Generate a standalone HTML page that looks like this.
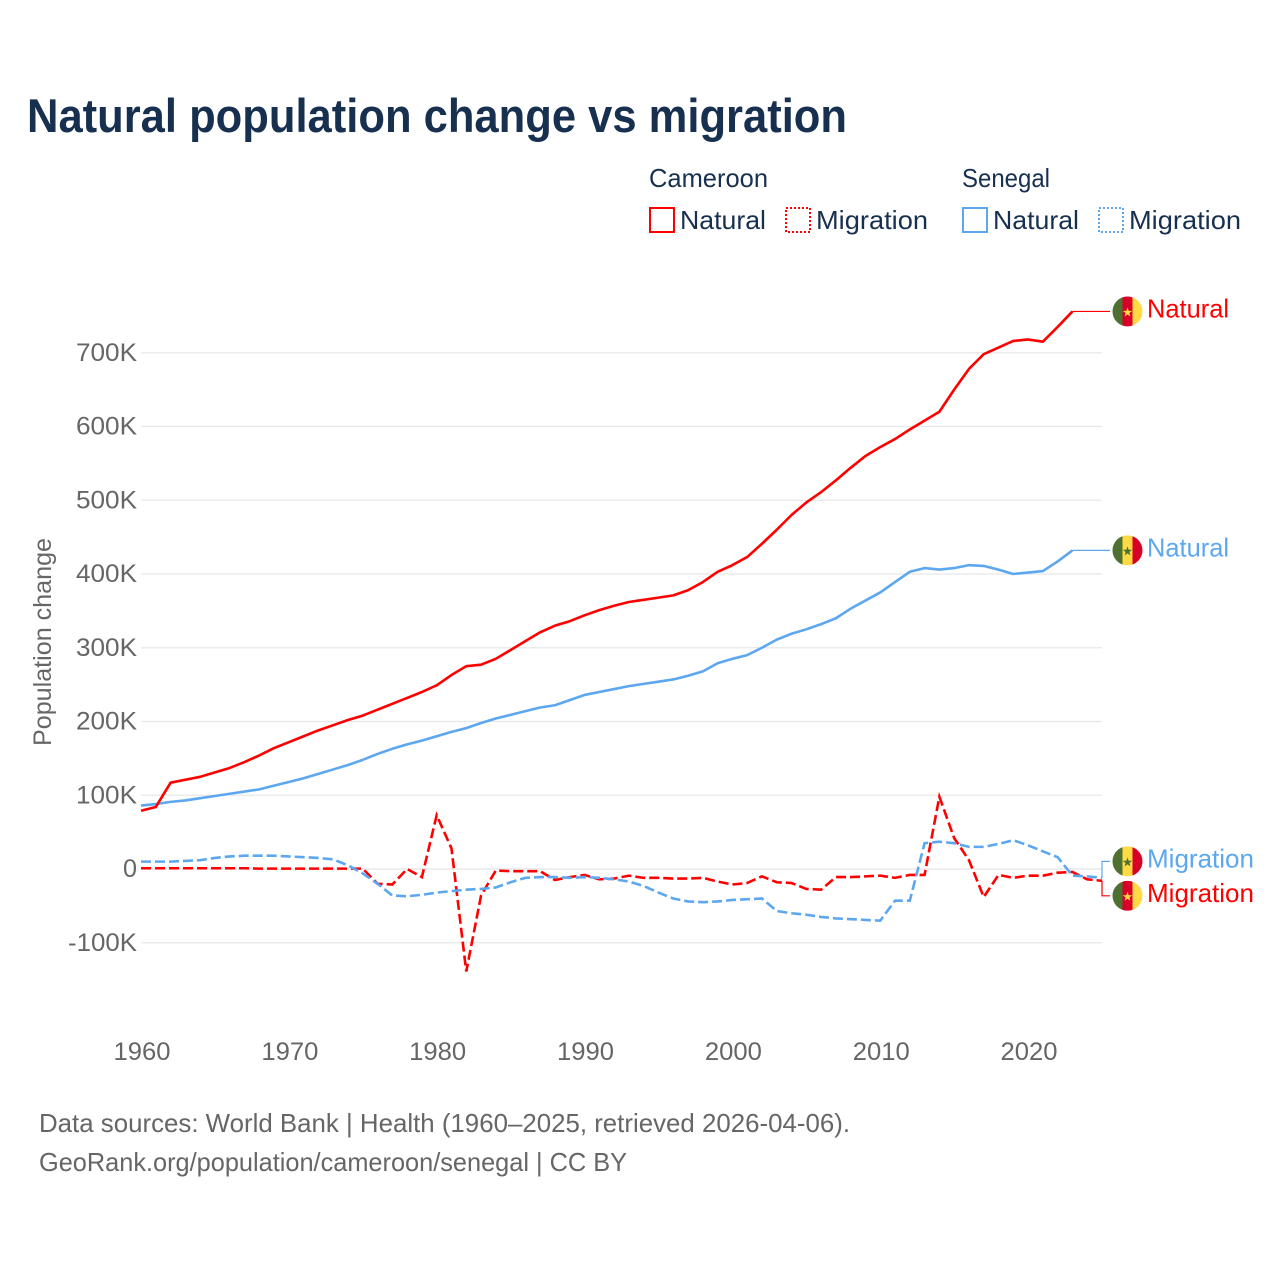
<!DOCTYPE html>
<html lang="en">
<head>
<meta charset="utf-8">
<title>Natural population change vs migration</title>
<style>
html,body{margin:0;padding:0;background:#fff;width:1280px;height:1280px;overflow:hidden}
svg{display:block}
text{font-family:"Liberation Sans",sans-serif}
</style>
</head>
<body>
<svg id="chart" xmlns="http://www.w3.org/2000/svg" width="1280" height="1280" viewBox="0 0 1280 1280">
  <defs>
    <clipPath id="flag-clip"><circle cx="0" cy="0" r="15"/></clipPath>
  </defs>
  <text x="27" y="132" font-size="47" font-weight="700" fill="#18304f" textLength="820" lengthAdjust="spacingAndGlyphs">Natural population change vs migration</text>

  <g>
    <text x="649" y="187" font-size="26" fill="#18304f" textLength="119" lengthAdjust="spacingAndGlyphs">Cameroon</text>
    <text x="962" y="187" font-size="26" fill="#18304f" textLength="88" lengthAdjust="spacingAndGlyphs">Senegal</text>
    <rect x="650" y="208" width="24" height="24" fill="none" stroke="#ff0000" stroke-width="2"/>
    <text x="680" y="229" font-size="26" fill="#18304f" textLength="86" lengthAdjust="spacingAndGlyphs">Natural</text>
    <rect x="786" y="208" width="24" height="24" fill="none" stroke="#ff0000" stroke-width="2" stroke-dasharray="2 2"/>
    <text x="816" y="229" font-size="26" fill="#18304f" textLength="112" lengthAdjust="spacingAndGlyphs">Migration</text>
    <rect x="963" y="208" width="24" height="24" fill="none" stroke="#5ca7f0" stroke-width="2"/>
    <text x="993" y="229" font-size="26" fill="#18304f" textLength="86" lengthAdjust="spacingAndGlyphs">Natural</text>
    <rect x="1099" y="208" width="24" height="24" fill="none" stroke="#5ca7f0" stroke-width="2" stroke-dasharray="2 2"/>
    <text x="1129" y="229" font-size="26" fill="#18304f" textLength="112" lengthAdjust="spacingAndGlyphs">Migration</text>
  </g>

  <text transform="translate(51 642) rotate(-90)" text-anchor="middle" font-size="25" fill="#666666" textLength="208" lengthAdjust="spacingAndGlyphs">Population change</text>

  <g id="grid"></g>
  <g id="y-ticks"></g>
  <g id="x-ticks"></g>
  <g id="series"></g>
  <g id="end-labels"></g>

  <text x="39" y="1132" font-size="26" fill="#666666" textLength="811" lengthAdjust="spacingAndGlyphs">Data sources: World Bank | Health (1960–2025, retrieved 2026-04-06).</text>
  <text x="39" y="1171" font-size="26" fill="#666666" textLength="588" lengthAdjust="spacingAndGlyphs">GeoRank.org/population/cameroon/senegal | CC BY</text>
</svg>
<script>
const years = [1960,1961,1962,1963,1964,1965,1966,1967,1968,1969,1970,1971,1972,1973,1974,1975,1976,1977,1978,1979,1980,1981,1982,1983,1984,1985,1986,1987,1988,1989,1990,1991,1992,1993,1994,1995,1996,1997,1998,1999,2000,2001,2002,2003,2004,2005,2006,2007,2008,2009,2010,2011,2012,2013,2014,2015,2016,2017,2018,2019,2020,2021,2022,2023,2024,2025];
const cameroonNatural = [79,84,117,121,125,131,137,145,154,164,172,180,188,195,202,208,216,224,232,240,249,263,275,277,285,297,309,321,330,336,344,351,357,362,365,368,371,378,389,403,412,423,441,460,480,497,511,527,544,560,572,583,596,608,620,650,678,698,707,716,718,715,735,756];
const senegalNatural = [86,88,91,93,96,99,102,105,108,113,118,123,129,135,141,148,156,163,169,174,180,186,191,198,204,209,214,219,222,229,236,240,244,248,251,254,257,262,268,279,285,290,300,311,319,325,332,340,353,364,375,389,403,408,406,408,412,411,406,400,402,404,417,432];
const cameroonMigration = [1,1,1,1,1,1,1,1,0.5,0.5,0.5,0.5,0.5,0.5,0.5,0.5,-20,-21,0,-11,73,28,-139,-36,-2,-3,-3,-3,-15,-11,-8,-14,-13,-9,-12,-12,-13,-13,-12,-17,-21,-19,-10,-18,-19,-27,-28,-11,-11,-10,-9,-12,-8,-8,98,42,12,-38,-8,-12,-9,-9,-5,-4,-14,-16];
const senegalMigration = [10,10,10,11,12,15,17,18,18,18,17,16,15,13,5,-6,-20,-36,-37,-35,-32,-30,-28,-27,-25,-18,-12,-11,-11,-12,-11,-12,-14,-17,-23,-32,-40,-44,-45,-44,-42,-41,-40,-57,-60,-62,-65,-67,-68,-69,-70,-43,-43,35,37,35,30,30,34,39,32,24,16,-9,-10,-12];
const yTickValues = [-100,0,100,200,300,400,500,600,700];
const yTickLabels = ["-100K","0","100K","200K","300K","400K","500K","600K","700K"];
const xTickLabels = ["1960","1970","1980","1990","2000","2010","2020"];

const SVG_NS = "http://www.w3.org/2000/svg";
const RED = "#ff0000", BLUE = "#5ca7f0", GREY = "#666666";
const xLeft = 141, xRight = 1102, yearStart = 1960, yearEnd = 2025;
const yZero = 869, pxPer100K = 73.75;
function xScale(year){ return xLeft + (year - yearStart) * (xRight - xLeft) / (yearEnd - yearStart); }
function yScale(v){ return yZero - v * pxPer100K / 100; }
function mk(tag, attrs, parent, content){
  const node = document.createElementNS(SVG_NS, tag);
  for (const k in attrs) node.setAttribute(k, attrs[k]);
  if (content !== undefined) node.textContent = content;
  parent.appendChild(node);
  return node;
}
function linePath(values){
  return values.map((v, i) => (i ? "L" : "M") + xScale(years[i]).toFixed(2) + " " + yScale(v).toFixed(2)).join(" ");
}

/* gridlines and y ticks */
const gridG = document.getElementById("grid");
const yG = document.getElementById("y-ticks");
yTickValues.forEach((v, i) => {
  const line = mk("line", {x1: xLeft, x2: xRight, y1: yScale(v), y2: yScale(v), stroke: v === 0 ? "#e4e4e4" : "#e8e8e8", "stroke-width": 1.2}, gridG);
  
  
  const label = yTickLabels[i];
  const w = label === "0" ? 14 : (label[0] === "-" ? 69 : 61);
  const t = mk("text", {x: 137 - w, y: yScale(v) + 8, "font-size": 25, fill: GREY, textLength: w, lengthAdjust: "spacingAndGlyphs"}, yG, label);
  
  
});

/* x ticks */
const xG = document.getElementById("x-ticks");
xTickLabels.forEach((label) => {
  const t = mk("text", {x: xScale(Number(label)) - 27.5, y: 1060, "font-size": 25, fill: GREY, textLength: 57, lengthAdjust: "spacingAndGlyphs"}, xG, label);
  
  
});

/* series */
const seriesG = document.getElementById("series");
const pSN = mk("path", {d: linePath(senegalNatural), fill: "none", stroke: BLUE, "stroke-width": 2.6, "stroke-linejoin": "round"}, seriesG);


const pCN = mk("path", {d: linePath(cameroonNatural), fill: "none", stroke: RED, "stroke-width": 2.6, "stroke-linejoin": "round"}, seriesG);


const pCM = mk("path", {d: linePath(cameroonMigration), fill: "none", stroke: RED, "stroke-width": 2.6, "stroke-dasharray": "10 4"}, seriesG);


const pSM = mk("path", {d: linePath(senegalMigration), fill: "none", stroke: BLUE, "stroke-width": 2.6, "stroke-dasharray": "10 4"}, seriesG);



/* end labels with flags */
const labelsG = document.getElementById("end-labels");
const STAR = "0,-5 1.2,-1.6 4.8,-1.6 1.9,0.6 2.9,4 0,2 -2.9,4 -1.9,0.6 -4.8,-1.6 -1.2,-1.6";
function drawFlag(parent, cy, stripes, starColor){
  const g = mk("g", {transform: "translate(1127.5 " + cy + ")", "clip-path": "url(#flag-clip)"}, parent);
  mk("rect", {x: -15, y: -15, width: 10, height: 30, fill: stripes[0]}, g);
  mk("rect", {x: -5, y: -15, width: 10, height: 30, fill: stripes[1]}, g);
  mk("rect", {x: 5, y: -15, width: 10, height: 30, fill: stripes[2]}, g);
  mk("polygon", {points: STAR, fill: starColor, transform: "translate(0 1)"}, g);
  return g;
}
const cmStripes = ["#4e7030", "#d80027", "#ffda44"];
const snStripes = ["#4e7030", "#ffda44", "#d80027"];
function endLabel(values, offset, color, text, textW, stripes, starColor, lineName, flagName, labelName){
  const lastIndex = values.length - 1;
  const x0 = xScale(years[lastIndex]);
  const y0 = yScale(values[lastIndex]);
  const ly = y0 + offset;
  const d = offset === 0
    ? "M" + x0 + " " + y0 + " L1110 " + y0
    : "M" + x0 + " " + y0 + " L" + x0 + " " + ly + " L1110 " + ly;
  const leader = mk("path", {d: d, fill: "none", stroke: color, "stroke-width": 1.2}, labelsG);
  
  
  const flag = drawFlag(labelsG, ly, stripes, starColor);
  
  
  const t = mk("text", {x: 1147, y: ly + 6, "font-size": 26, fill: color, textLength: textW, lengthAdjust: "spacingAndGlyphs"}, labelsG, text);
  
  
}
endLabel(cameroonNatural, 0, RED, "Natural", 82, cmStripes, "#ffda44", "cameroon-natural-leader", "cameroon-natural-flag", "cameroon-natural-label");
endLabel(senegalNatural, 0, BLUE, "Natural", 82, snStripes, "#4e7030", "senegal-natural-leader", "senegal-natural-flag", "senegal-natural-label");
endLabel(senegalMigration, -16.5, BLUE, "Migration", 107, snStripes, "#4e7030", "senegal-migration-leader", "senegal-migration-flag", "senegal-migration-label");
endLabel(cameroonMigration, 15, RED, "Migration", 107, cmStripes, "#ffda44", "cameroon-migration-leader", "cameroon-migration-flag", "cameroon-migration-label");
</script>
</body>
</html>
